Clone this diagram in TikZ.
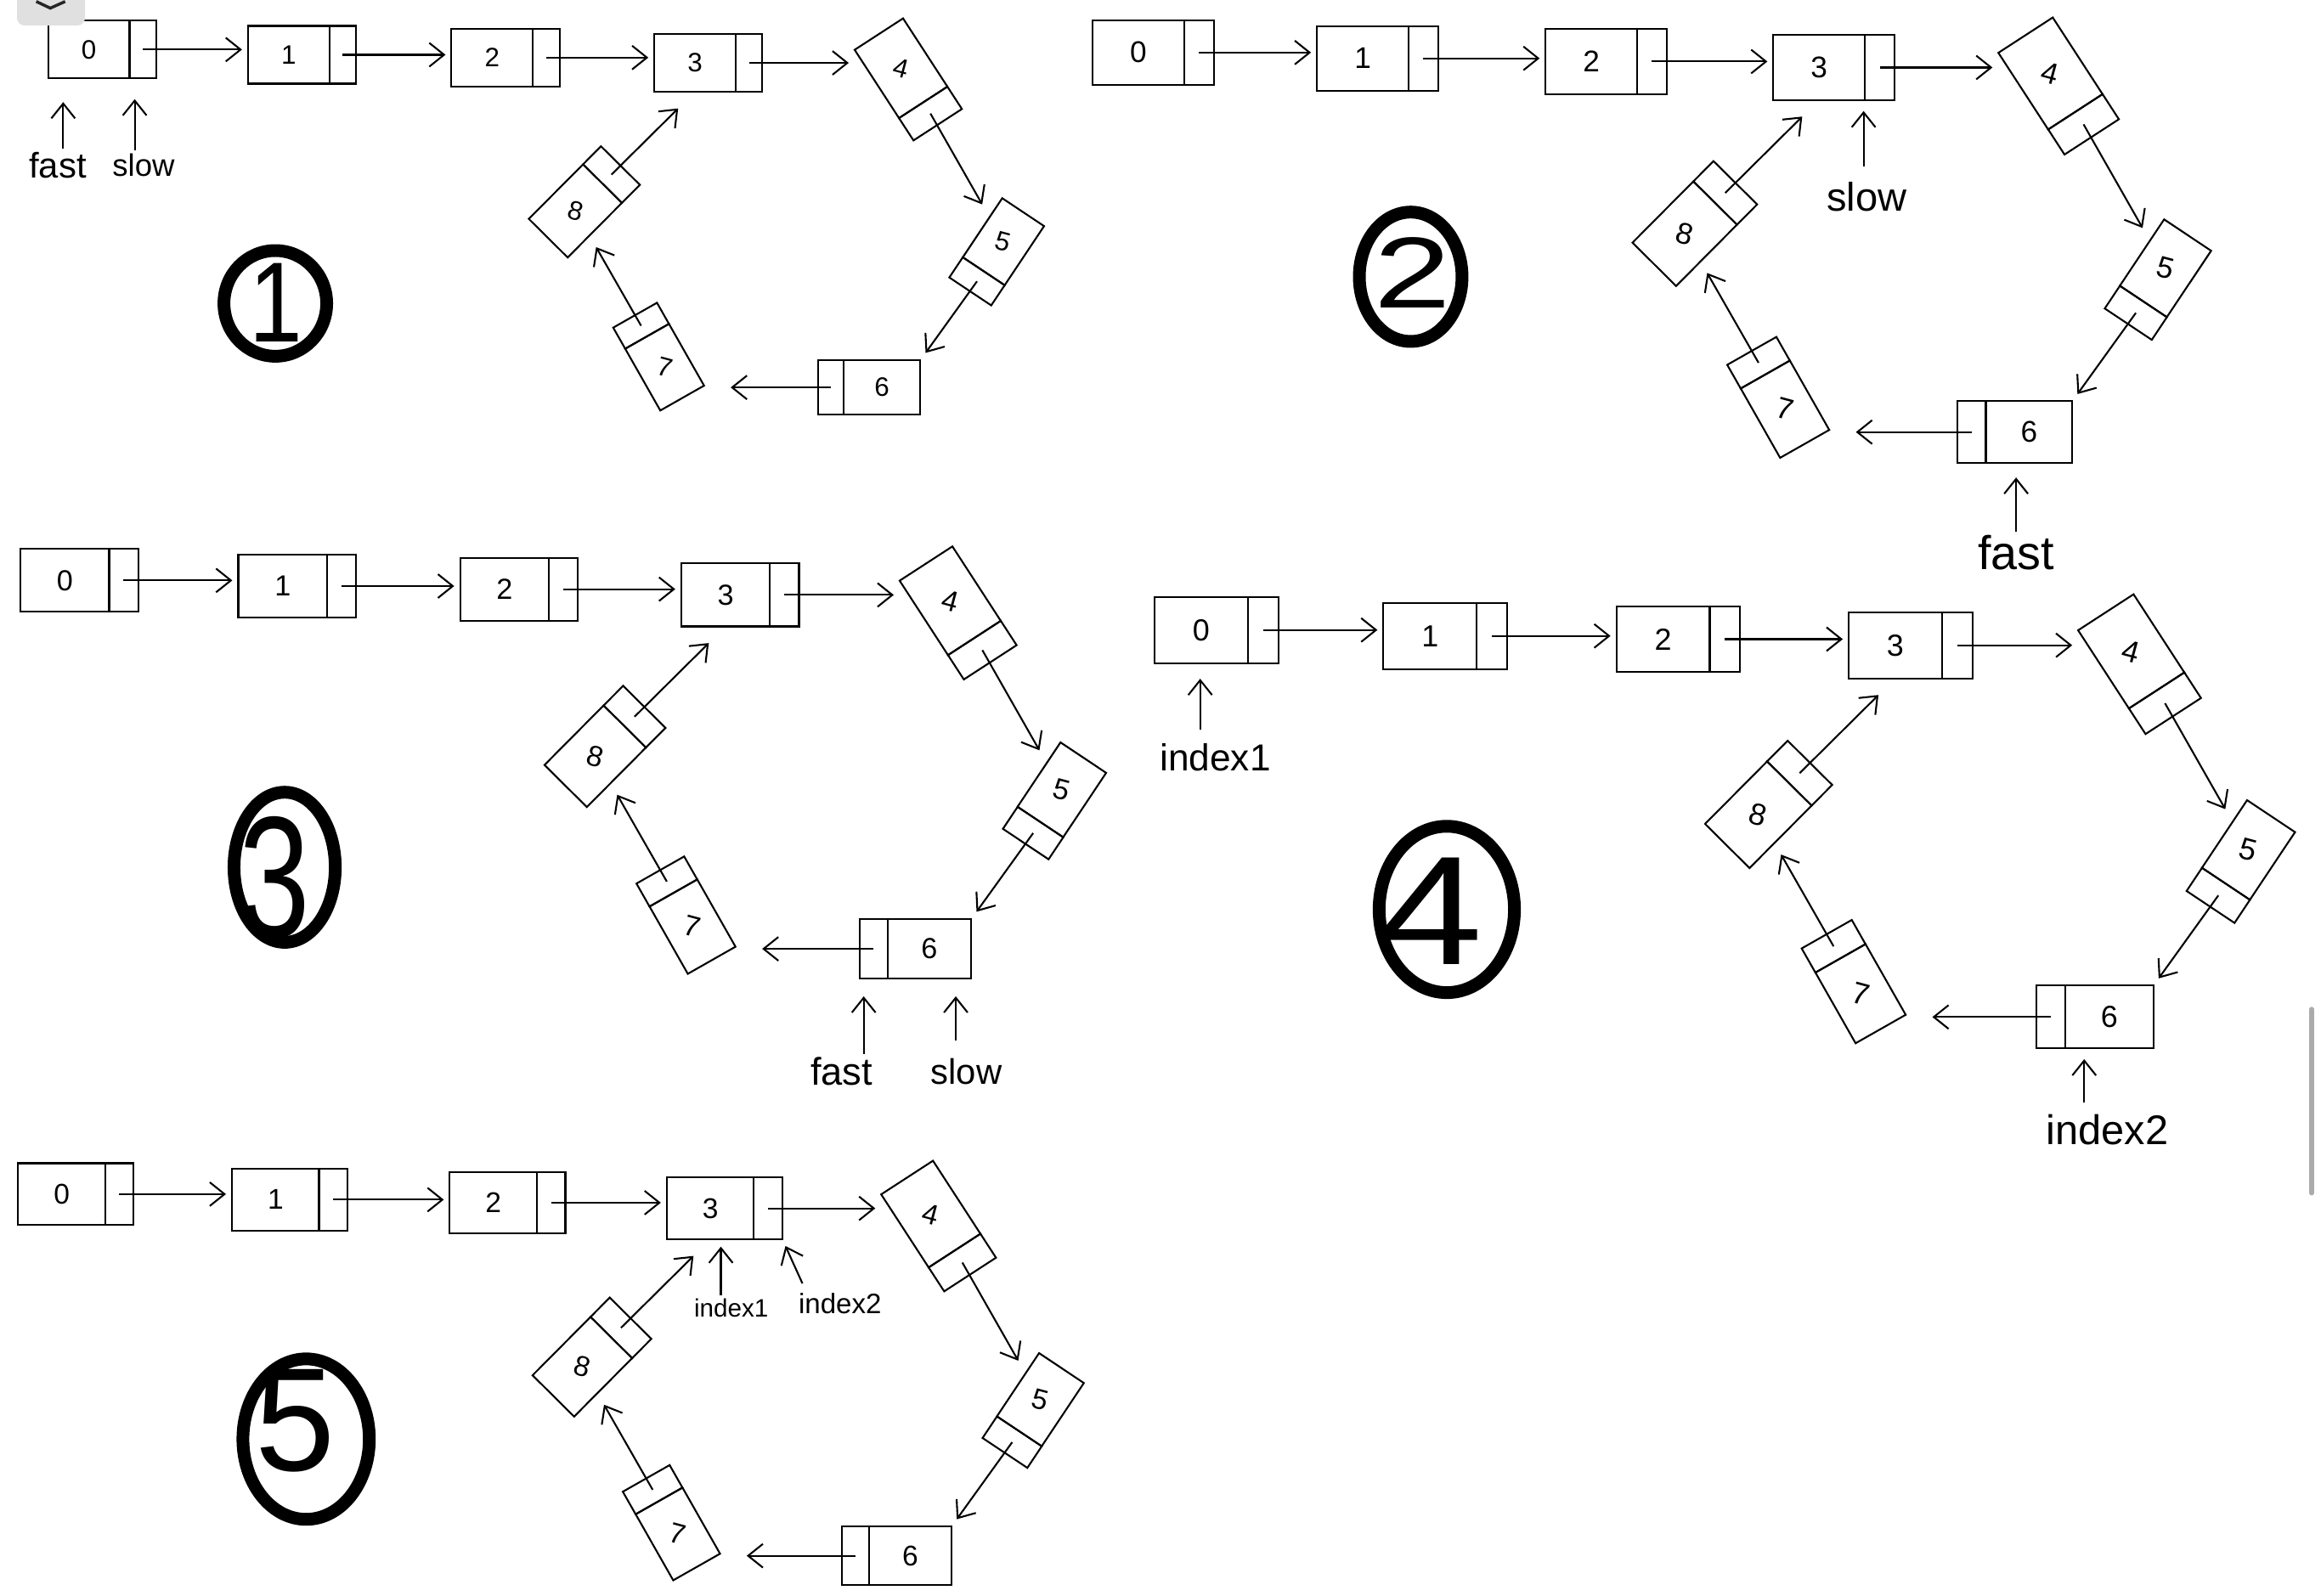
\documentclass[tikz,border=0pt]{standalone}
\usepackage{fontspec}
\setmainfont{Liberation Sans}
\usepackage{graphicx}
\usetikzlibrary{arrows.meta, shapes.geometric, calc}

\begin{document}
\begin{tikzpicture}[
  x=0.5pt, y=-0.5pt,
  val/.style={draw, line width=0.6pt, inner sep=0pt, outer sep=0pt, minimum width=27.5pt,
              minimum height=19.5pt, font=\fontsize{9}{9}\selectfont},
  ptr/.style={draw, line width=0.6pt, inner sep=0pt, outer sep=0pt, minimum width=9pt,
              minimum height=19.5pt},
  valS/.style={val, minimum width=24pt, minimum height=17pt},
  ptrS/.style={ptr, minimum width=8.2pt, minimum height=17pt},
  valM/.style={val, minimum width=26pt, minimum height=18.5pt},
  ptrM/.style={ptr, minimum width=8.6pt, minimum height=18.5pt},
  link/.style={-{Straight Barb[length=5pt, width=8pt]}, line width=0.6pt, shorten >=2pt},
  pointto/.style={link},
  tag/.style={inner sep=1pt, font=\fontsize{#1}{#1}\selectfont},
  ring/.style={ellipse, draw, line width=4.3pt, inner sep=0pt},
  bignum/.style={inner sep=0pt, font=\fontsize{30}{30}\selectfont}
]
\useasboundingbox (0,0) rectangle (1568,1078);

\foreach \i/\px/\py/\k in {1/478.5/42.5/1, 2/1239/45.6/1.123, 3/500/402/1.09,
                          4/1290.7/436/1.145, 5/489.5/816.5/1.07} {
\begin{scope}[shift={(\px,\py)}, scale=\k, transform shape]
  \node[val] (v\i-0) at (-418.5,-9) {0};
  \node[val] (v\i-1) at (-283.5,-5.5) {1};
  \node[val] (v\i-2) at (-146,-3.6) {2};
  \node[val] (v\i-3) at (-9,0) {3};
  \node[val, rotate=-57] (v\i-4) at (130.2,3.6) {\rotatebox{42}{4}};
  \node[valS, rotate=-123.7] (v\i-5) at (199.4,120.8) {\rotatebox{108.7}{5}};
  \node[valM] (v\i-6) at (117.3,219.3) {6};
  \node[valS, rotate=119.6] (v\i-7) at (-29.5,205.6) {\rotatebox{-134.6}{7}};
  \node[valM, rotate=45.2] (v\i-8) at (-89.8,100) {\rotatebox{-60.2}{8}};
  \node[ptr, anchor=west] (p\i-0) at (v\i-0.east) {};
  \node[ptr, anchor=west] (p\i-1) at (v\i-1.east) {};
  \node[ptr, anchor=west] (p\i-2) at (v\i-2.east) {};
  \node[ptr, anchor=west] (p\i-3) at (v\i-3.east) {};
  \node[ptr, rotate=-57, anchor=west] (p\i-4) at (v\i-4.east) {};
  \node[ptrS, rotate=-123.7, anchor=west] (p\i-5) at (v\i-5.east) {};
  \node[ptrM, anchor=east] (p\i-6) at (v\i-6.west) {};
  \node[ptrS, rotate=119.6, anchor=west] (p\i-7) at (v\i-7.east) {};
  \node[ptrM, rotate=45.2, anchor=west] (p\i-8) at (v\i-8.east) {};
  \draw[link] (p\i-0.center) -- (p\i-0.center -| v\i-1.west);
  \draw[link] (p\i-1.center) -- (p\i-1.center -| v\i-2.west);
  \draw[link] (p\i-2.center) -- (p\i-2.center -| v\i-3.west);
  \draw[link] (p\i-3.center) -- (p\i-3.center -| v\i-4.south west);
  \draw[link, shorten >=5pt] (p\i-4.center) -- (v\i-5);
  \draw[link, shorten >=3pt] (p\i-5.center) -- (v\i-6.north east);
  \draw[link, shorten >=9pt] (p\i-6.center) -- (p\i-6.center -| v\i-7.south west);
  \draw[link, shorten >=4.5pt] (p\i-7.center) -- (v\i-8);
  \draw[link, shorten >=8pt] (p\i-8.center) -- (v\i-3.south);
\end{scope}
}

\node[tag=12] (fast1) at (39,111.5) {fast};
\node[tag=10.5] (slow1) at (97,111.5) {slow};
\node[tag=13.5] (slow2) at (1261,133) {slow};
\node[tag=16] (fast2) at (1362,373.5) {fast};
\node[tag=13] (fast3) at (568.5,724) {fast};
\node[tag=12] (slow3) at (652.9,724) {slow};
\node[tag=12.7] (idxa4) at (821,512) {index1};
\node[tag=14] (idxb4) at (1423.6,763.6) {index2};
\node[tag=8.5] (idxa5) at (494,884) {index1};
\node[tag=9.5] (idxb5) at (567.5,880.6) {index2};

\draw[pointto, shorten >=8pt] ($(fast1.north)+(1.85pt,0)$) -- ($(fast1.north |- v1-0.south)+(1.85pt,0)$);
\draw[pointto, shorten >=7pt] ($(slow1.north)+(-3pt,0)$) -- ($(slow1.north |- v1-0.south)+(-3pt,0)$);
\draw[pointto, shorten <=4pt, shorten >=3.75pt] ($(slow2.north)+(-1pt,0)$) -- ($(slow2.north |- v2-3.south)+(-1pt,0)$);
\draw[pointto, shorten >=5pt] (fast2.north) -- (fast2.north |- v2-6.south);
\draw[pointto, shorten >=6pt] ($(fast3.north)+(7.5pt,0)$) -- ($(fast3.north |- v3-6.south)+(7.5pt,0)$);
\draw[pointto, shorten <=5pt, shorten >=6pt] ($(slow3.north)+(-3.6pt,0)$) -- ($(slow3.north |- v3-6.south)+(-3.6pt,0)$);
\draw[pointto, shorten <=3.5pt, shorten >=5.3pt] ($(idxa4.north)+(-5.1pt,0)$) -- ($(idxa4.north |- v4-0.south)+(-5.1pt,0)$);
\draw[pointto, shorten <=3pt, shorten >=3.7pt] ($(idxb4.north)+(-7.8pt,0)$) -- ($(idxb4.north |- v4-6.south)+(-7.8pt,0)$);
\draw[pointto, shorten >=2.5pt] ($(idxa5.north)+(-3.5pt,0)$) -- ($(idxa5.north |- v5-3.south)+(-3.5pt,0)$);
\draw[pointto, shorten >=2.5pt] ($(idxb5.north west)+(2.5pt,2pt)$) -- (p5-3.south east);

\node[ring, minimum width=34.7pt, minimum height=35.7pt] (ring1) at (186,205) {};
\node[bignum] (num1) at (186.5,204.5) {\resizebox{18pt}{26.5pt}{1}};
\node[ring, minimum width=34.7pt, minimum height=43.7pt] (ring2) at (953,187) {};
\node[bignum] (num2) at (954.5,184) {\resizebox{26pt}{23.8pt}{2}};
\node[ring, minimum width=34.2pt, minimum height=50.7pt] (ring3) at (192.3,586) {};
\node[bignum] (num3) at (185.3,593) {\resizebox{24pt}{40.8pt}{3}};
\node[ring, minimum width=45.7pt, minimum height=56.2pt] (ring4) at (977.4,614.5) {};
\node[bignum] (num4) at (967,615.6) {\resizebox{35pt}{36pt}{4}};
\node[ring, minimum width=42.7pt, minimum height=54.2pt] (ring5) at (206.8,972.4) {};
\node[bignum] (num5) at (199.7,960) {\resizebox{27pt}{34.2pt}{5}};

\fill[black!12, rounded corners=2.5pt] (11.5,-20) rectangle (57.4,17.2);
\draw[black!85, line width=1pt] (24.5,1) -- (34,5.5) -- (44,1);
\draw[black!33, line width=1.75pt, line cap=round] (1561.6,682) -- (1561.6,806);
\end{tikzpicture}
\end{document}
